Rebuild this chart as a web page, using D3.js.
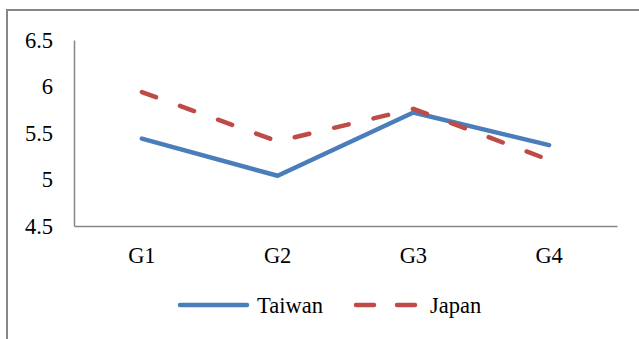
<!DOCTYPE html>
<html>
<head>
<meta charset="utf-8">
<script src="https://cdn.jsdelivr.net/npm/d3@7"></script>
<style>
  html, body { margin: 0; padding: 0; background: #fff; }
  svg { display: block; }
</style>
</head>
<body>
<svg id="chart" width="639" height="339"></svg>
<script>
// Mean scores per group
const categories = ["G1", "G2", "G3", "G4"];
const taiwan = [5.44, 5.04, 5.72, 5.37];
const japan = [5.94, 5.41, 5.76, 5.21];
const yTicks = [4.5, 5, 5.5, 6, 6.5];
const seriesNames = ["Taiwan", "Japan"];

const series = [
  { name: seriesNames[0], values: taiwan, color: "#4a7ebb", dash: null },
  { name: seriesNames[1], values: japan, color: "#be4b48", dash: "15,25.5" }
];

const svg = d3.select("#chart");
const W = 639, H = 339;
const plot = { left: 74, right: 617, top: 40, bottom: 226 };

// Outer frame of the chart area (extends past the right/bottom edge)
svg.append("rect")
  .attr("x", 7).attr("y", 10)
  .attr("width", W + 10).attr("height", H + 10)
  .attr("fill", "none").attr("stroke", "#878787").attr("stroke-width", 2);

const x = d3.scaleBand().domain(categories).range([plot.left, plot.right]);
const y = d3.scaleLinear().domain([4.5, 6.5]).range([plot.bottom, plot.top]);

function styleText(sel) {
  sel.attr("font-family", "Liberation Serif")
    .style("font-family", "'Liberation Serif', serif")
    .style("font-size", "22.5px")
    .style("fill", "#000");
}

// Y axis
const yAxis = svg.append("g")
  .attr("transform", `translate(${plot.left},0)`)
  .call(d3.axisLeft(y).tickValues(yTicks).tickSize(0).tickPadding(21)
    .tickFormat(d3.format("")));
yAxis.attr("font-family", null).attr("font-size", null);
yAxis.select(".domain").attr("stroke", "#868686").attr("stroke-width", 1.5);
yAxis.selectAll("text").call(styleText);

// X axis
const xAxis = svg.append("g")
  .attr("transform", `translate(0,${plot.bottom})`)
  .call(d3.axisBottom(x).tickSize(0).tickPadding(21));
xAxis.attr("font-family", null).attr("font-size", null);
xAxis.select(".domain").attr("stroke", "#868686").attr("stroke-width", 1.5);
xAxis.selectAll("text").call(styleText);

const line = d3.line()
  .x((d, i) => x(categories[i]) + x.bandwidth() / 2)
  .y(d => y(d));

series.forEach(s => {
  svg.append("path")
    .datum(s.values)
    .attr("d", line)
    .attr("fill", "none")
    .attr("stroke", s.color)
    .attr("stroke-width", 4.5)
    .attr("stroke-linecap", "round")
    .attr("stroke-linejoin", "round")
    .attr("stroke-dasharray", s.dash);
});

// Legend
const legendY = 305;
const lg = svg.append("g");
lg.append("line")
  .attr("x1", 180).attr("x2", 247).attr("y1", legendY).attr("y2", legendY)
  .attr("stroke", series[0].color).attr("stroke-width", 4.5).attr("stroke-linecap", "round");
lg.append("text").attr("x", 257).attr("y", legendY + 8).text(series[0].name).call(styleText);
lg.append("line")
  .attr("x1", 356).attr("x2", 416).attr("y1", legendY).attr("y2", legendY)
  .attr("stroke", series[1].color).attr("stroke-width", 4.5).attr("stroke-linecap", "round")
  .attr("stroke-dasharray", "18,23");
lg.append("text").attr("x", 430).attr("y", legendY + 8).text(series[1].name).call(styleText);
</script>
</body>
</html>
